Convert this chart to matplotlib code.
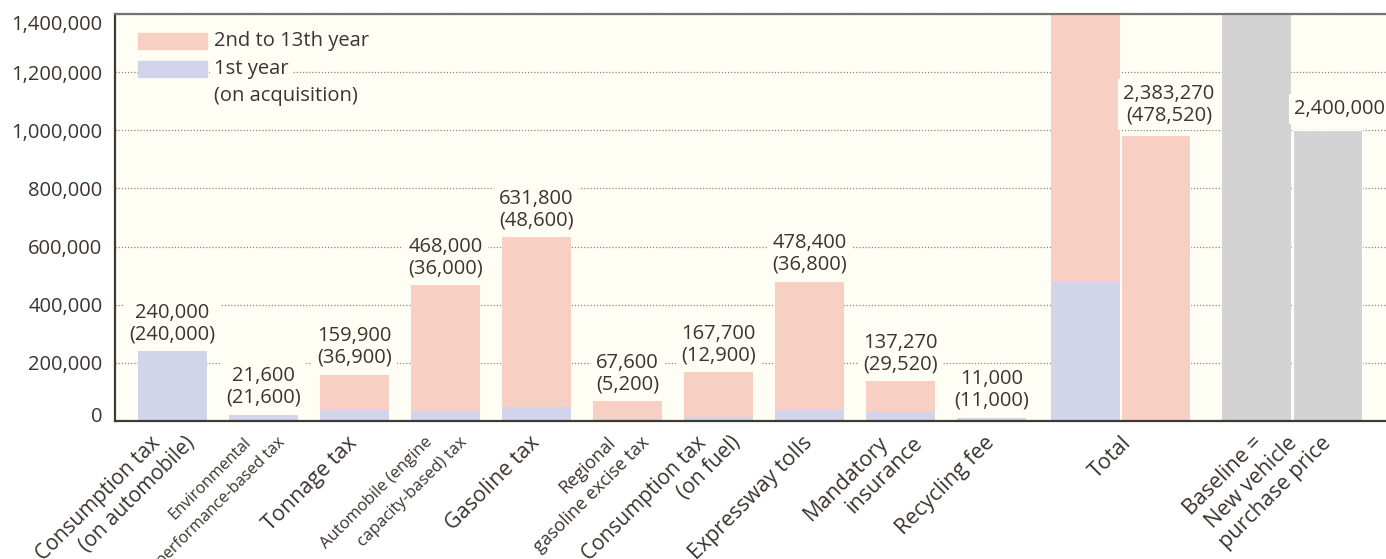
import matplotlib
matplotlib.use('Agg')
import matplotlib.pyplot as plt
from matplotlib.patches import Rectangle
import matplotlib.transforms as mtransforms
import numpy as np

plt.rcParams['font.family'] = ['Open Sans', 'DejaVu Sans']

# 13-year cost items (yen)
categories = ['Consumption tax\n(on automobile)', 'Environmental\nperformance-based tax',
              'Tonnage tax', 'Automobile (engine\ncapacity-based) tax', 'Gasoline tax',
              'Regional\ngasoline excise tax', 'Consumption tax\n(on fuel)',
              'Expressway tolls', 'Mandatory\ninsurance', 'Recycling fee']
label_sizes = [15, 11.5, 15.5, 12, 15.5, 13, 15, 15.5, 15.5, 15.5]
total_13yr = [240000, 21600, 159900, 468000, 631800, 67600, 167700, 478400, 137270, 11000]
first_year = [240000, 21600, 36900, 36000, 48600, 5200, 12900, 36800, 29520, 11000]
baseline_price = 2400000
baseline_label = 'Baseline =\nNew vehicle\npurchase price'
axis_cap = 1400000
yticks = [0, 200000, 400000, 600000, 800000, 1000000, 1200000, 1400000]

C_LATER = '#F7CFC3'
C_FIRST = '#D2D4EB'
C_BASE = '#D2D3D2'
BG = '#FFFEF5'
TXT = '#3B3431'

total_13yr = np.array(total_13yr)
first_year = np.array(first_year)
later = total_13yr - first_year
grand_total = int(total_13yr.sum())
grand_first = int(first_year.sum())

fig = plt.figure(figsize=(13.86, 5.59), dpi=100)
ax = fig.add_axes([115 / 1386, 1 - 421 / 559, 1 - 115 / 1386, 407 / 559])
ax.set_facecolor(BG)

w = 0.758
x = np.arange(len(categories))
ax.bar(x, first_year, w, color=C_FIRST, zorder=2)
ax.bar(x, later, w, bottom=first_year, color=C_LATER, zorder=2)

# total and baseline exceed the axis: split into two columns
xt1, xt2 = 10.033, 10.802
xb1, xb2 = 11.912, 12.692
ax.bar(xt1, grand_first, w, color=C_FIRST, zorder=2)
ax.bar(xt1, axis_cap - grand_first, w, bottom=grand_first, color=C_LATER, zorder=2)
ax.bar(xt2, grand_total - axis_cap, w, color=C_LATER, edgecolor='white', linewidth=0.8, zorder=2)
ax.bar(xb1, axis_cap, w, color=C_BASE, zorder=2)
ax.bar(xb2, baseline_price - axis_cap, w, color=C_BASE, edgecolor='white', linewidth=0.8, zorder=2)

box = dict(boxstyle='square,pad=0.25', fc=BG, ec='none')
for xi, t, f in zip(x, total_13yr, first_year):
    ax.annotate(f'{t:,}\n({f:,})', (xi, t), xytext=(0, 5), textcoords='offset points',
                ha='center', va='bottom', fontsize=14.5, color=TXT, linespacing=1.1,
                bbox=box, zorder=4)
ax.annotate(f'{grand_total:,}\n({grand_first:,})', (xt2, grand_total - axis_cap), xytext=(10, 7),
            textcoords='offset points', ha='center', va='bottom', fontsize=14.5, color=TXT,
            linespacing=1.1, bbox=box, zorder=4)
ax.annotate(f'{baseline_price:,}', (xb2, baseline_price - axis_cap), xytext=(9, 8),
            textcoords='offset points', ha='center', va='bottom', fontsize=14.5, color=TXT,
            bbox=box, zorder=4)

ax.set_xlim(-0.632, 13.34)
ax.set_ylim(0, axis_cap)
ax.set_yticks(yticks)
ax.set_yticklabels([f'{v:,}' for v in yticks], fontsize=14.5, color=TXT)
ax.tick_params(axis='y', length=0, pad=9)
ax.yaxis.grid(True, linestyle=(0, (1, 1.5)), color='#8a8580', linewidth=0.9, zorder=1)
ax.set_axisbelow(True)

# category labels: each line drawn on its own, lines stepped sideways like the original
ax.set_xticks([])
ticks_x = list(x) + [(xt1 + xt2) / 2, (xb1 + xb2) / 2]
ticks_lbl = categories + ['Total', baseline_label]
sizes = label_sizes + [15.5, 15.5]
shifts = [0] * len(categories) + [8, 0]
for xc, lbl, fs, sh in zip(ticks_x, ticks_lbl, sizes, shifts):
    lines = lbl.split('\n')
    n = len(lines)
    for k, line in enumerate(lines):
        dx = 0 if n == 1 else (k - (n - 1) / 2) * 34 + 2
        dx += sh
        tr = ax.get_xaxis_transform() + mtransforms.ScaledTranslation(
            dx / 100, -19 / 100, fig.dpi_scale_trans)
        ax.text(xc, 0, line, transform=tr, rotation=45, rotation_mode='anchor',
                ha='right', va='center', fontsize=fs, color=TXT, clip_on=False)

# nudge the end labels inward like the original
ylbls = ax.get_yticklabels()
ylbls[0].set_transform(ylbls[0].get_transform() + mtransforms.ScaledTranslation(0, 5 / 72, fig.dpi_scale_trans))
ylbls[-1].set_transform(ylbls[-1].get_transform() + mtransforms.ScaledTranslation(0, -6 / 72, fig.dpi_scale_trans))

for s in ['left', 'bottom']:
    ax.spines[s].set_color('#3D3935')
    ax.spines[s].set_linewidth(1.6)
ax.spines['top'].set_color('#77726C')
ax.spines['top'].set_linewidth(1.6)
ax.spines['right'].set_visible(False)

# legend keys
for yy, col in [(0.914, C_LATER), (0.8452, C_FIRST)]:
    ax.add_patch(Rectangle((0.0181, yy), 0.0543, 0.0393, transform=ax.transAxes,
                           color=col, zorder=3, clip_on=False))
lbox = dict(boxstyle='square,pad=0.2', fc=BG, ec='none')
ax.text(0.078, 0.9336, '2nd to 13th year', transform=ax.transAxes, fontsize=14.5,
        color=TXT, va='center', ha='left', bbox=lbox, zorder=4)
ax.text(0.078, 0.8648, '1st year', transform=ax.transAxes, fontsize=14.5,
        color=TXT, va='center', ha='left', bbox=lbox, zorder=4)
ax.text(0.078, 0.7985, '(on acquisition)', transform=ax.transAxes, fontsize=14.5,
        color=TXT, va='center', ha='left', zorder=4)

fig.savefig('out.png', dpi=100, facecolor='white')
